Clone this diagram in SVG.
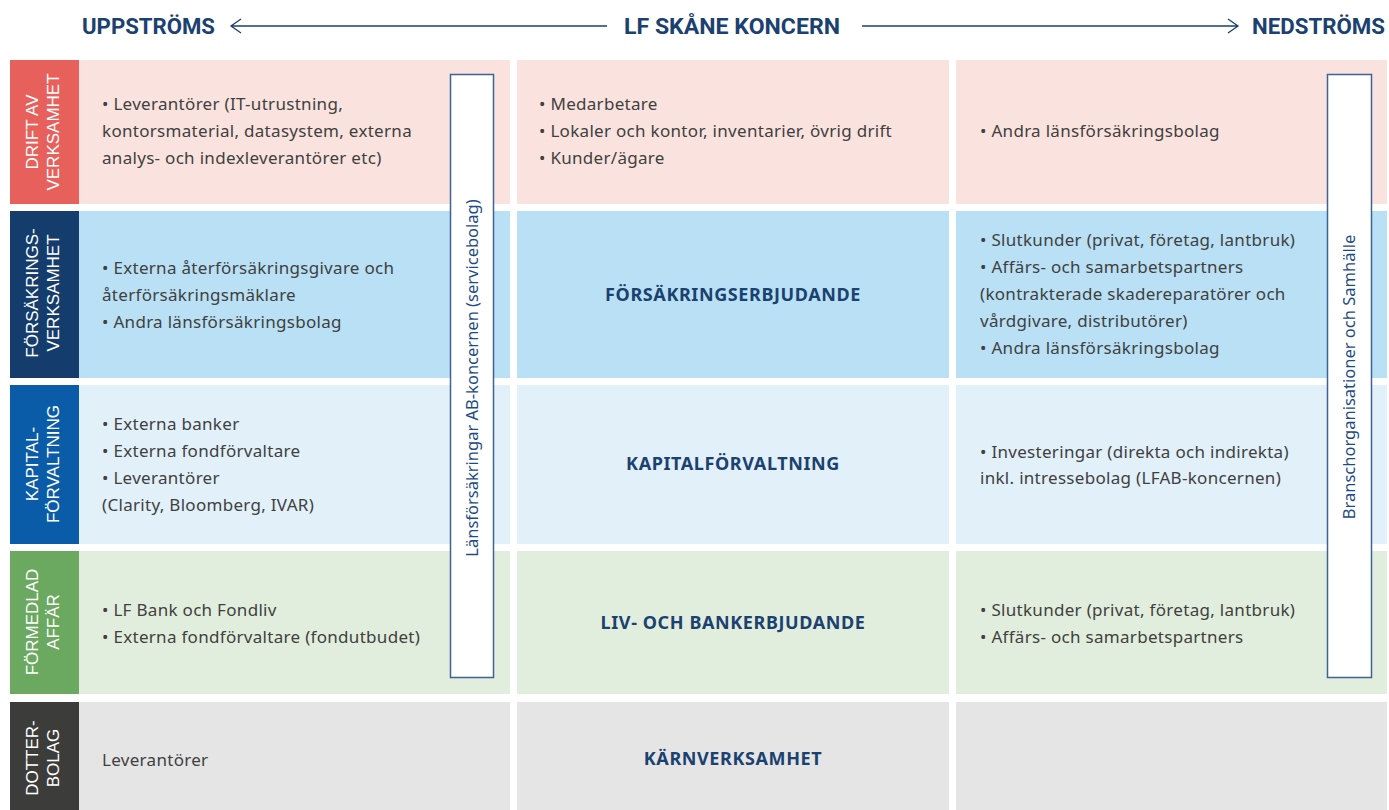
<svg xmlns="http://www.w3.org/2000/svg" width="1389" height="810" viewBox="0 0 1389 810">
<style>
.hdr{font-family:"Liberation Sans Narrow","Roboto","Liberation Sans",sans-serif;font-weight:700;font-size:22px;fill:#1b4170}
.lbl{font-family:"Liberation Sans",Arial,sans-serif;font-size:17px;fill:#ffffff;text-anchor:middle}
.body{font-family:"Noto Sans","Open Sans",sans-serif;font-size:17px;letter-spacing:0.3px;fill:#404040}
.mid{font-family:"Noto Sans","Open Sans",sans-serif;font-size:18px;font-weight:700;fill:#1b4170;text-anchor:middle;letter-spacing:0.6px}
.vbox{fill:#ffffff;stroke:#3d6296;stroke-width:1.5}
.vtxt{font-family:"Noto Sans","Open Sans",sans-serif;font-size:16.5px;fill:#1d4c85;text-anchor:middle}
.arr{stroke:#1b4170;stroke-width:1.3;fill:none}
</style>
<rect width="1389" height="810" fill="#ffffff"/>

<g id="header">
<text class="hdr" x="82" y="34" textLength="133" lengthAdjust="spacingAndGlyphs">UPPSTRÖMS</text>
<text class="hdr" x="624" y="34" textLength="216" lengthAdjust="spacingAndGlyphs">LF SKÅNE KONCERN</text>
<text class="hdr" x="1252" y="34" textLength="133" lengthAdjust="spacingAndGlyphs">NEDSTRÖMS</text>
</g>
<g id="connectors">
<path class="arr" d="M607 26 H231 M241 19 L231 26 L241 33"/>
<path class="arr" d="M862 26 H1238 M1228 19 L1238 26 L1228 33"/>
</g>

<g id="row-drift">
<rect x="10" y="60" width="69" height="144" fill="#e8605c"/>
<rect x="79" y="60" width="431" height="144" fill="#fae3de"/>
<rect x="517" y="60" width="432" height="144" fill="#fae3de"/>
<rect x="956" y="60" width="431" height="144" fill="#fae3de"/>
<text class="lbl" transform="rotate(-90)"><tspan x="-132" y="38">DRIFT AV</tspan><tspan x="-132" y="59">VERKSAMHET</tspan></text>
<text class="body"><tspan x="102" y="110">• Leverantörer (IT-utrustning,</tspan><tspan x="102" y="137">kontorsmaterial, datasystem, externa</tspan><tspan x="102" y="164">analys- och indexleverantörer etc)</tspan></text>
<text class="body"><tspan x="539" y="110">• Medarbetare</tspan><tspan x="539" y="137">• Lokaler och kontor, inventarier, övrig drift</tspan><tspan x="539" y="164">• Kunder/ägare</tspan></text>
<text class="body"><tspan x="980" y="137">• Andra länsförsäkringsbolag</tspan></text>
</g>

<g id="row-forsakring">
<rect x="10" y="211" width="69" height="167" fill="#143d6e"/>
<rect x="79" y="211" width="431" height="167" fill="#b9e0f4"/>
<rect x="517" y="211" width="432" height="167" fill="#b9e0f4"/>
<rect x="956" y="211" width="431" height="167" fill="#b9e0f4"/>
<text class="lbl" transform="rotate(-90)"><tspan x="-293" y="38">FÖRSÄKRINGS-</tspan><tspan x="-293" y="59">VERKSAMHET</tspan></text>
<text class="body"><tspan x="102" y="274">• Externa återförsäkringsgivare och</tspan><tspan x="102" y="301">återförsäkringsmäklare</tspan><tspan x="102" y="328">• Andra länsförsäkringsbolag</tspan></text>
<text class="mid" x="733" y="301">FÖRSÄKRINGSERBJUDANDE</text>
<text class="body"><tspan x="980" y="246">• Slutkunder (privat, företag, lantbruk)</tspan><tspan x="980" y="273">• Affärs- och samarbetspartners</tspan><tspan x="980" y="300">(kontrakterade skadereparatörer och</tspan><tspan x="980" y="327">vårdgivare, distributörer)</tspan><tspan x="980" y="354">• Andra länsförsäkringsbolag</tspan></text>
</g>

<g id="row-kapital">
<rect x="10" y="385" width="69" height="159" fill="#0b5ca8"/>
<rect x="79" y="385" width="431" height="159" fill="#e2f0fa"/>
<rect x="517" y="385" width="432" height="159" fill="#e2f0fa"/>
<rect x="956" y="385" width="431" height="159" fill="#e2f0fa"/>
<text class="lbl" transform="rotate(-90)"><tspan x="-464" y="38">KAPITAL-</tspan><tspan x="-464" y="59">FÖRVALTNING</tspan></text>
<text class="body"><tspan x="102" y="430">• Externa banker</tspan><tspan x="102" y="457">• Externa fondförvaltare</tspan><tspan x="102" y="484">• Leverantörer</tspan><tspan x="102" y="511">(Clarity, Bloomberg, IVAR)</tspan></text>
<text class="mid" x="733" y="470">KAPITALFÖRVALTNING</text>
<text class="body"><tspan x="980" y="458">• Investeringar (direkta och indirekta)</tspan><tspan x="980" y="484">inkl. intressebolag (LFAB-koncernen)</tspan></text>
</g>

<g id="row-formedlad">
<rect x="10" y="551" width="69" height="143" fill="#6aa95f"/>
<rect x="79" y="551" width="431" height="143" fill="#e2eedd"/>
<rect x="517" y="551" width="432" height="143" fill="#e2eedd"/>
<rect x="956" y="551" width="431" height="143" fill="#e2eedd"/>
<text class="lbl" transform="rotate(-90)"><tspan x="-622" y="38">FÖRMEDLAD</tspan><tspan x="-622" y="59">AFFÄR</tspan></text>
<text class="body"><tspan x="102" y="616">• LF Bank och Fondliv</tspan><tspan x="102" y="643">• Externa fondförvaltare (fondutbudet)</tspan></text>
<text class="mid" x="733" y="629">LIV- OCH BANKERBJUDANDE</text>
<text class="body"><tspan x="980" y="616">• Slutkunder (privat, företag, lantbruk)</tspan><tspan x="980" y="643">• Affärs- och samarbetspartners</tspan></text>
</g>

<g id="row-dotterbolag">
<rect x="10" y="702" width="69" height="108" fill="#3c3c3b"/>
<rect x="79" y="702" width="431" height="108" fill="#e5e5e5"/>
<rect x="517" y="702" width="432" height="108" fill="#e5e5e5"/>
<rect x="956" y="702" width="431" height="108" fill="#e5e5e5"/>
<text class="lbl" transform="rotate(-90)"><tspan x="-758" y="38">DOTTER-</tspan><tspan x="-758" y="59">BOLAG</tspan></text>
<text class="body" x="102" y="766">Leverantörer</text>
<text class="mid" x="733" y="765">KÄRNVERKSAMHET</text>
</g>

<g id="box-lansforsakringar">
<rect class="vbox" x="450.5" y="74.5" width="43" height="603"/>
<text class="vtxt" transform="rotate(-90)" x="-378" y="478">Länsförsäkringar AB-koncernen (servicebolag)</text>
</g>

<g id="box-bransch">
<rect class="vbox" x="1327.5" y="74.5" width="44" height="603"/>
<text class="vtxt" transform="rotate(-90)" x="-377" y="1355">Branschorganisationer och Samhälle</text>
</g>
</svg>
